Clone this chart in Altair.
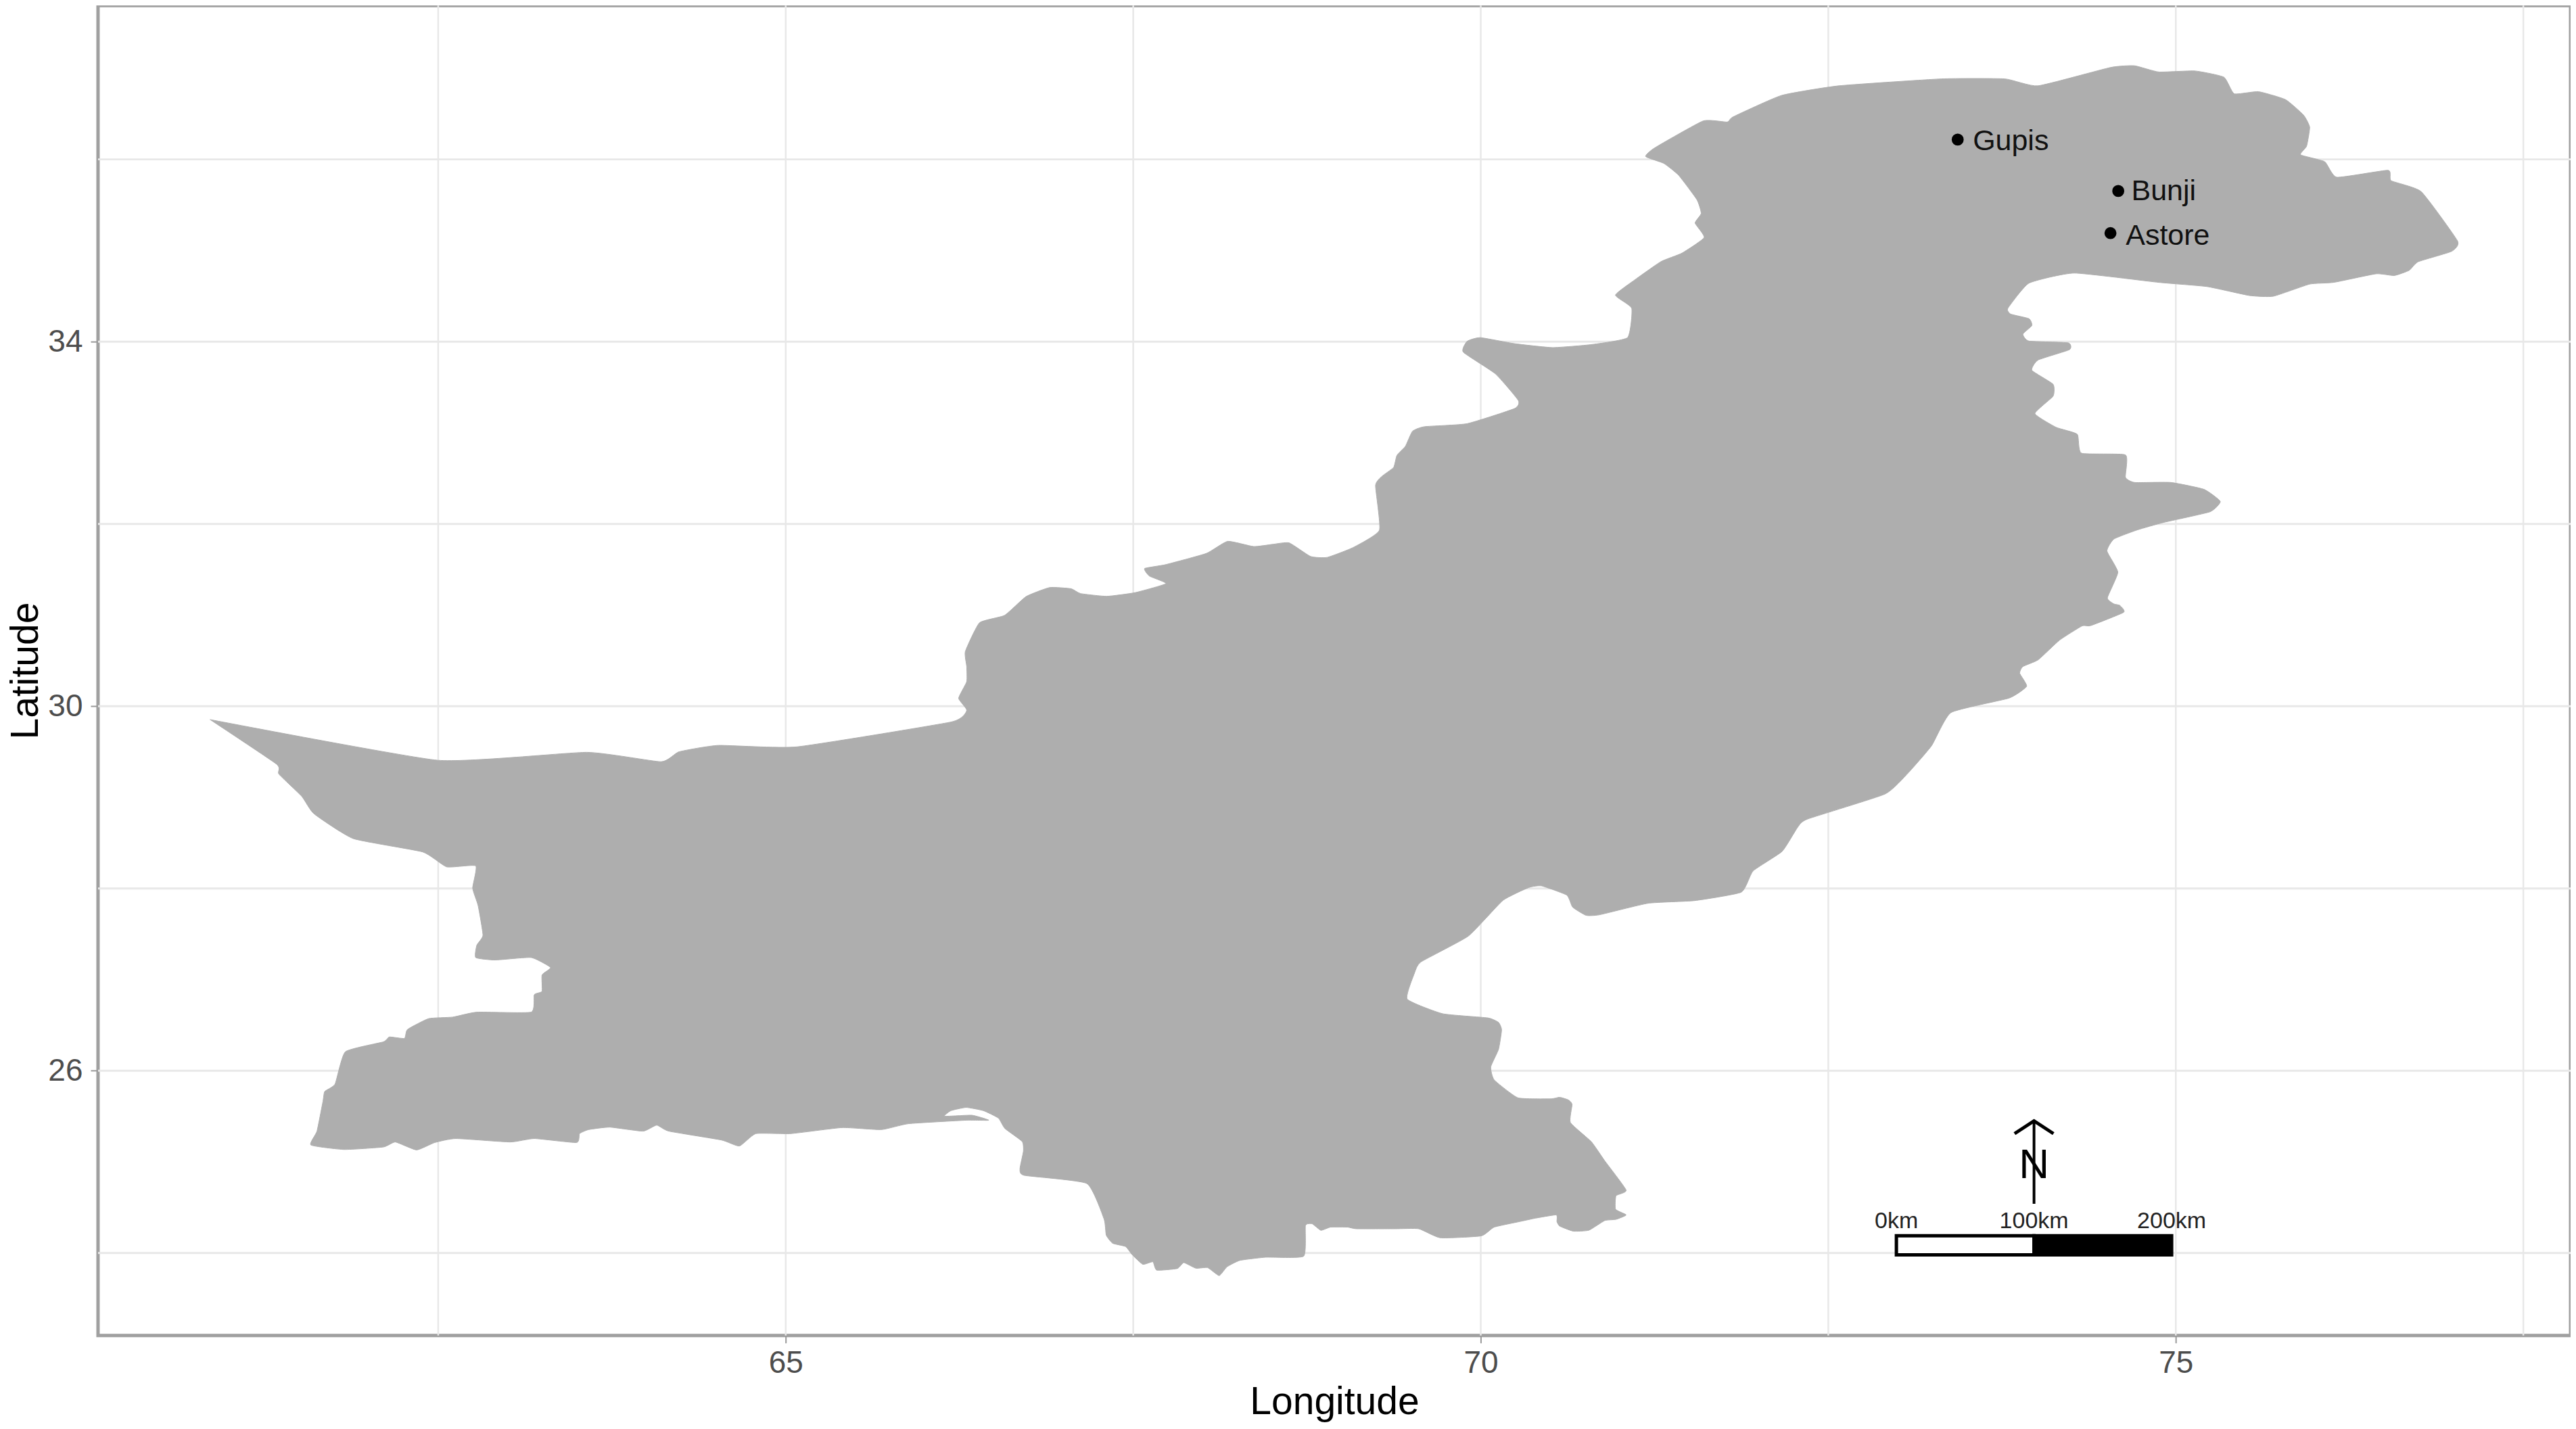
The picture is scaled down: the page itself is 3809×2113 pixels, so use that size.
import altair as alt
import pandas as pd

outline = [
(60.859,29.853),(62.496,29.407),(63.569,29.494),(64.103,29.391),(64.233,29.50),(64.515,29.570),(65.08,29.554),(66.187,29.826),(66.302,29.954),
(66.244,30.087),(66.302,30.269),(66.302,30.435),(66.292,30.600),(66.394,30.915),(66.575,30.997),(66.729,31.203),(66.899,31.302),(67.053,31.289),
(67.121,31.236),(67.309,31.206),(67.513,31.246),(67.735,31.345),(67.616,31.428),(67.582,31.511),(67.735,31.554),(68.025,31.676),(68.179,31.809),
(68.366,31.752),(68.503,31.776),(68.622,31.792),(68.776,31.643),(68.895,31.633),(69.083,31.742),(69.271,31.931),(69.243,32.421),(69.288,32.521),
(69.373,32.620),(69.397,32.752),(69.458,32.852),(69.509,33.017),(69.595,33.067),(69.902,33.100),(70.243,33.266),(70.270,33.355),(70.106,33.646),
(69.874,33.885),(69.902,34.004),(69.997,34.044),(70.243,33.978),(70.516,33.935),(70.796,33.968),(71.056,34.044),(71.086,34.366),(70.969,34.510),
(71.100,34.669),(71.295,34.877),(71.447,34.971),(71.607,35.142),(71.542,35.301),(71.586,35.407),(71.555,35.558),(71.425,35.823),(71.317,35.956),
(71.186,36.031),(71.251,36.126),(71.599,36.421),(71.773,36.410),(71.816,36.467),(72.163,36.701),(72.576,36.807),(73.314,36.883),(73.770,36.883),
(74.009,36.807),(74.530,37.008),(74.703,37.027),(74.877,36.959),(75.138,36.970),(75.346,36.902),(75.420,36.720),(75.594,36.743),(75.789,36.656),
(75.919,36.486),(75.963,36.353),(75.941,36.145),(75.898,36.050),(76.071,35.975),(76.158,35.804),(76.527,35.880),(76.549,35.766),(76.766,35.645),
(77.027,35.104),(76.983,34.990),(76.744,34.877),(76.679,34.782),(76.571,34.725),(76.440,34.744),(76.136,34.650),(75.963,34.631),(75.702,34.498),
(75.529,34.506),(75.224,34.604),(74.877,34.650),(74.269,34.752),(73.944,34.642),(73.792,34.366),(73.813,34.302),(73.944,34.252),(73.965,34.177),
(73.900,34.082),(73.944,34.006),(74.226,33.987),(74.235,33.912),(74.009,33.798),(73.965,33.685),(74.117,33.533),(74.117,33.401),(73.987,33.211),
(74.139,33.060),(74.291,32.984),(74.321,32.776),(74.638,32.757),(74.638,32.511),(74.704,32.455),(74.964,32.455),(75.203,32.379),(75.320,32.246),
(75.246,32.133),(74.912,32.016),(74.723,31.934),(74.555,31.834),(74.505,31.702),(74.583,31.470),(74.508,31.189),(74.555,31.122),(74.597,31.106),
(74.625,31.030),(74.388,30.884),(74.326,30.881),(74.164,30.725),(74.011,30.510),(73.899,30.434),(73.877,30.361),(73.927,30.218),(73.801,30.089),
(73.383,29.930),(73.243,29.566),(73.075,29.268),(72.908,29.036),(72.350,28.761),(72.280,28.672),(72.168,28.407),(71.959,28.192),(71.875,27.960),
(71.540,27.867),(71.205,27.838),(70.856,27.712),(70.758,27.705),(70.661,27.795),(70.619,27.927),(70.438,28.028),(70.345,28.010),(70.159,27.868),
(69.911,27.478),(69.570,27.194),(69.523,27.070),(69.471,26.786),(69.725,26.626),(70.051,26.580),(70.128,26.530),(70.150,26.449),(70.128,26.236),
(70.072,26.041),(70.097,25.899),(70.268,25.703),(70.503,25.692),(70.568,25.709),(70.632,25.679),(70.657,25.630),(70.645,25.432),(70.795,25.222),
(70.892,25.012),(71.046,24.690),(70.973,24.628),(70.970,24.480),(71.046,24.418),(70.973,24.369),(70.892,24.356),(70.778,24.250),(70.665,24.240),
(70.568,24.295),(70.548,24.344),(70.543,24.418),(70.389,24.381),(70.292,24.349),(70.097,24.284),(70.004,24.188),(69.709,24.167),(69.554,24.266),
(69.384,24.266),(69.105,24.266),(69.043,24.284),(68.919,24.284),(68.850,24.249),(68.788,24.320),(68.739,24.302),(68.726,23.965),(68.453,23.954),
(68.267,23.919),(68.174,23.848),(68.118,23.752),(68.035,23.840),(67.951,23.833),(67.864,23.894),(67.817,23.830),(67.669,23.812),(67.641,23.904),
(67.569,23.876),(67.492,23.982),(67.445,24.071),(67.352,24.107),(67.306,24.195),(67.290,24.373),(67.166,24.763),(66.716,24.852),(66.685,24.923),
(66.710,25.118),(66.701,25.224),(66.577,25.366),(66.530,25.480),(66.422,25.562),(66.298,25.597),(66.189,25.562),(66.144,25.501),(66.339,25.512),
(66.461,25.457),(66.296,25.457),(65.883,25.419),(65.688,25.354),(65.405,25.376),(65.036,25.310),(64.785,25.310),(64.667,25.174),(64.537,25.240),
(64.159,25.337),(64.072,25.403),(63.973,25.337),(63.734,25.381),(63.582,25.354),(63.517,25.310),(63.495,25.212),(63.191,25.256),(63.017,25.218),
(62.627,25.256),(62.475,25.212),(62.344,25.131),(62.192,25.218),(62.105,25.163),(61.823,25.136),(61.584,25.185),(61.628,25.337),(61.671,25.664),
(61.684,25.773),(61.758,25.854),(61.832,26.208),(62.105,26.317),(62.149,26.371),(62.257,26.355),(62.279,26.453),(62.431,26.572),(62.605,26.589),
(62.779,26.643),(63.169,26.643),(63.191,26.834),(63.247,26.872),(63.247,27.051),(63.308,27.133),(63.169,27.242),(62.909,27.215),(62.770,27.242),
(62.778,27.378),(62.822,27.487),(62.787,27.813),(62.748,28.003),(62.770,28.248),(62.561,28.237),(62.388,28.401),(61.888,28.548),(61.606,28.820),
(61.519,29.010),(61.354,29.255),(61.337,29.364),
]
grid_lon = [62.5, 65, 67.5, 70, 72.5, 75, 77.5]
grid_lat = [24, 26, 28, 30, 32, 34, 36]
tick_lon = [65, 70, 75]
tick_lat = [26, 30, 34]
station = ["Gupis", "Bunji", "Astore"]
station_lon = [73.431, 74.586, 74.530]
station_lat = [36.217, 35.653, 35.191]
label_lon = [73.54, 74.68, 74.64]
label_lat = [36.20, 35.65, 35.16]
bar_start = [72.99, 73.98]
bar_end = [73.98, 74.97]
bar_fill = ["white", "black"]
bar_low = 23.98
bar_high = 24.19
bar_text = ["0km", "100km", "200km"]
bar_text_lon = [72.99, 73.98, 74.97]
bar_text_lat = 24.27
shaft_lon = [73.98, 73.98]
shaft_lat = [24.54, 25.45]
head_lon = [73.84, 73.98, 74.12]
head_lat = [25.31, 25.45, 25.31]

xs = alt.Scale(domain=[60.053, 77.84], nice=False, zero=False)
ys = alt.Scale(domain=[23.095, 37.687], nice=False, zero=False)
ax_common = dict(grid=False, domain=False, format="d", tickColor="#999999", tickWidth=2, tickSize=11,
                 labelColor="#4d4d4d", labelFontSize=46, labelFont="Liberation Sans",
                 titleFont="Liberation Sans", titleFontSize=57, titleFontWeight="normal", titleColor="black")
x_axis = alt.Axis(values=tick_lon, labelPadding=8, titlePadding=7, **ax_common)
y_axis = alt.Axis(values=tick_lat, labelPadding=12, titlePadding=3, **ax_common)
X = lambda f="lon": alt.X(f"{f}:Q", scale=xs, axis=x_axis, title="Longitude")
Y = lambda f="lat": alt.Y(f"{f}:Q", scale=ys, axis=y_axis, title="Latitude")

shape = pd.DataFrame(outline + outline[:1], columns=["lon", "lat"])
shape["i"] = range(len(shape))

vgrid = alt.Chart(pd.DataFrame({"lon": grid_lon})).mark_rule(color="#e8e8e8", strokeWidth=2.5).encode(x=X())
hgrid = alt.Chart(pd.DataFrame({"lat": grid_lat})).mark_rule(color="#e8e8e8", strokeWidth=3).encode(y=Y())

land = alt.Chart(shape).mark_line(fill="#aeaeae", stroke="#aeaeae", strokeWidth=1,
                                  interpolate="cardinal", tension=0.55).encode(
    x=X(), y=Y(), order="i:Q")

stations = pd.DataFrame({"name": station, "lon": station_lon, "lat": station_lat})
labels = pd.DataFrame({"name": station, "lon": label_lon, "lat": label_lat})
dots = alt.Chart(stations).mark_circle(color="black", opacity=1, size=314).encode(x=X(), y=Y())
dot_text = alt.Chart(labels).mark_text(align="left", baseline="middle", fontSize=43, font="Liberation Sans", color="#111111").encode(
    x=X(), y=Y(), text="name:N")

bars = pd.DataFrame({"a": bar_start, "b": bar_end, "low": bar_low, "high": bar_high, "fill": bar_fill})
bar = alt.Chart(bars).mark_rect(stroke="black", strokeWidth=5).encode(
    x=X("a"), x2="b:Q", y=Y("low"), y2="high:Q",
    fill=alt.Fill("fill:N", scale=None))
bar_lab = alt.Chart(pd.DataFrame({"t": bar_text, "lon": bar_text_lon, "lat": bar_text_lat})).mark_text(
    align="center", baseline="alphabetic", fontSize=34, font="Liberation Sans", color="#222222").encode(
    x=X(), y=Y(), text="t:N")
shaft = alt.Chart(pd.DataFrame({"lon": shaft_lon, "lat": shaft_lat, "i": [0, 1]})).mark_line(color="black", strokeWidth=4).encode(
    x=X(), y=Y(), order="i:Q")
head = alt.Chart(pd.DataFrame({"lon": head_lon, "lat": head_lat, "i": [0, 1, 2]})).mark_line(color="black", strokeWidth=5).encode(
    x=X(), y=Y(), order="i:Q")
north = alt.Chart(pd.DataFrame({"t": ["N"], "lon": [73.98], "lat": [24.82]})).mark_text(
    align="center", baseline="alphabetic", fontSize=62, font="Liberation Sans", color="black").encode(
    x=X(), y=Y(), text="t:N")

chart = alt.layer(vgrid, hgrid, land, dots, dot_text, bar, bar_lab, shaft, head, north).properties(
    width=3657, height=1967, background="white",
    autosize=alt.AutoSizeParams(type="none"),
    padding={"left": 137, "top": 0, "right": 0, "bottom": 136},
).configure_view(stroke="#a0a0a0", strokeWidth=5)

chart.save("out.html", embed_options={"renderer": "svg", "actions": False})
